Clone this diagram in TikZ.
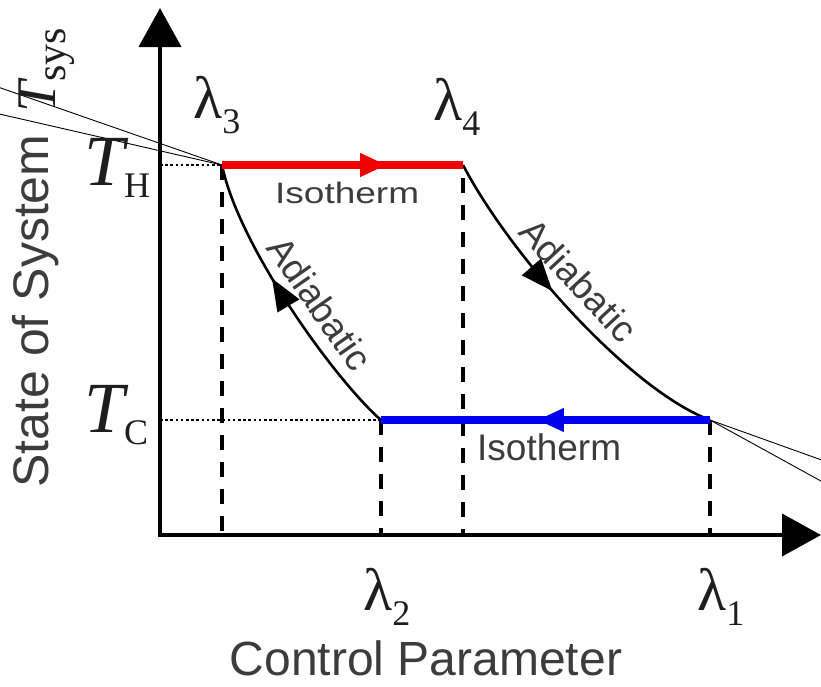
\documentclass[tikz,border=0pt]{standalone}
\usepackage{fontspec}
\setmainfont{Liberation Serif}
\newfontfamily\sansf{Liberation Sans}
\usetikzlibrary{arrows.meta,decorations.markings}
\definecolor{txtgray}{HTML}{3C3C3C}
\definecolor{symgray}{HTML}{1E1E1E}
\definecolor{myred}{HTML}{F00000}
\definecolor{myblue}{HTML}{0000EE}
\newcommand{\lamlab}[1]{\fontsize{60}{60}\selectfont λ\raisebox{-15pt}{\fontsize{36}{36}\selectfont #1}}
\newcommand{\Tlab}[1]{\fontsize{72}{72}\selectfont\itshape T\upshape\raisebox{-12pt}{\fontsize{36}{36}\selectfont #1}}
\begin{document}
\begin{tikzpicture}[x=1pt,y=-1pt,
  axis/.style={line width=4pt,-{Triangle[length=39pt,width=42pt]}},
  drop/.style={line width=3.5pt,dash pattern=on 15pt off 12pt},
  guide/.style={line width=2.6pt,dash pattern=on 2.6pt off 2.6pt},
  hot/.style={line width=8pt,myred},
  cold/.style={line width=8pt,myblue},
  adia/.style={line width=2.6pt},
  tangent/.style={line width=0.9pt},
  midarrow/.style 2 args={postaction={decorate,decoration={markings,
     mark=at position #1 with {\arrow{#2}}}}},
  glabel/.style={font=\sansf\fontsize{37}{40}\selectfont,text=txtgray,inner sep=0pt},
  sym/.style={text=symgray,inner sep=0pt}]
\useasboundingbox (0,0) rectangle (821,686);
\clip (0,0) rectangle (821,686);
% points
\coordinate (ytop) at (160,8);
\coordinate (xend) at (821,535);
\coordinate (p3) at (222,165);
\coordinate (p4) at (463,165);
\coordinate (p2) at (381,420);
\coordinate (p1) at (710,420);
\coordinate (h0) at (160,165);
\coordinate (c0) at (160,420);
\coordinate (b3) at (222,535);
\coordinate (b4) at (463,535);
\coordinate (t4) at (463,178);
\coordinate (b2) at (381,535);
\coordinate (b1) at (710,535);
\coordinate (e1) at (-5,86);
\coordinate (e2) at (-5,113);
\coordinate (e3) at (830,463);
\coordinate (e4) at (830,486);
% thin lines
\draw[tangent] (p3) -- (e1);
\draw[tangent] (p3) -- (e2);
\draw[tangent] (p1) -- (e3);
\draw[tangent] (p1) -- (e4);
% guides
\draw[guide] (h0) -- (p3);
\draw[guide] (c0) -- (p2);
\draw[drop] (p3) -- (b3);
\draw[drop] (t4) -- (b4);
\draw[drop] (p2) -- (b2);
\draw[drop] (p1) -- (b1);
% axes
\draw[axis] (160,537) -- (ytop);
\draw[axis] (158,535) -- (xend);
% cycle
\draw[adia,midarrow={0.43}{Triangle[length=32pt,width=25pt]}] (p4) .. controls (510,255) and (630,390) .. (p1);
\draw[adia,midarrow={0.59}{Triangle[length=32pt,width=25pt]}] (p2) .. controls (335,380) and (238,245) .. (p3);
\draw[hot,midarrow={0.685}{Triangle[length=27pt,width=22pt]}] (p3) -- (p4);
\draw[cold,midarrow={0.526}{Triangle[length=27pt,width=22pt]}] (p1) -- (p2);
% labels
\node[sym,anchor=base west] (l3) at (193,118) {\lamlab{3}};
\node[sym,anchor=base west] (l4) at (433,120) {\lamlab{4}};
\node[sym,anchor=base west] (l2) at (363,610) {\lamlab{2}};
\node[sym,anchor=base west] (l1) at (697,610) {\lamlab{1}};
\node[sym,anchor=base west] (th) at (84,185) {\Tlab{H}};
\node[sym,anchor=base west] (tc) at (84,432) {\Tlab{C}};
\node[sym,anchor=base west,rotate=90] (ts) at (55,113) {\fontsize{56}{56}\selectfont\itshape T\upshape\raisebox{-10pt}{\fontsize{42}{42}\selectfont sys}};
\node[glabel,anchor=base west,yscale=0.8] (iso1) at (275,203) {Isotherm};
\node[glabel,anchor=base west] (iso2) at (477,460) {Isotherm};
\node[glabel,anchor=base,rotate=-55] (ad1) at (309,311) {Adiabatic};
\node[glabel,anchor=base,rotate=-47] (ad2) at (569,289) {Adiabatic};
\node[glabel,font=\sansf\fontsize{48}{50}\selectfont,anchor=base] (xl) at (426,675) {Control Parameter};
\node[glabel,font=\sansf\fontsize{50}{50}\selectfont,rotate=90] (yl) at (36,311) {State of System};
\end{tikzpicture}
\end{document}
